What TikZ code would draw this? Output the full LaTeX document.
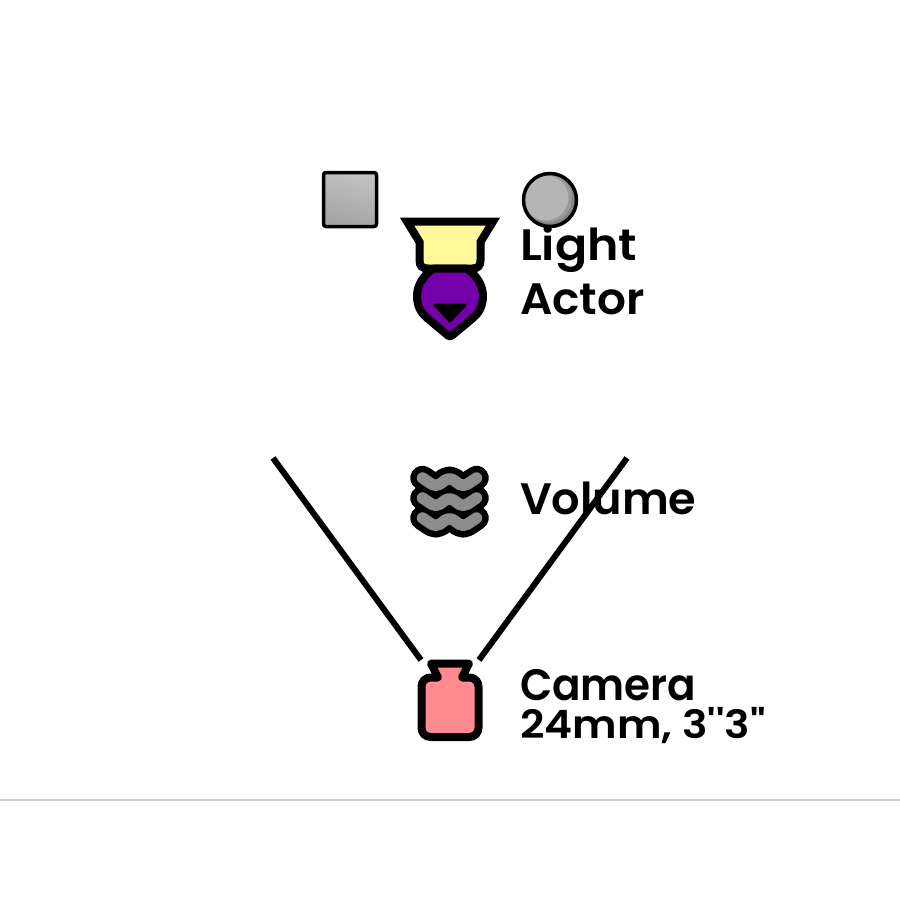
\documentclass[tikz,border=0pt]{standalone}
\usepackage{fontspec}
\usepackage{graphicx}
\newfontfamily\labfont{Poppins SemiBold}
\definecolor{lightfill}{HTML}{FFF799}
\definecolor{actorfill}{HTML}{7300A8}
\definecolor{camfill}{HTML}{FF8A8F}
\definecolor{volfill}{HTML}{8C8C8C}
\definecolor{rulecol}{HTML}{CCCCCC}
\tikzset{
  icon/.style={draw=black,line width=8pt,line join=round},
  lab/.style={anchor=base west,inner sep=0pt,outer sep=0pt,text=black,font=\fontsize{44}{44}\selectfont\labfont},
  labsmall/.style={lab,font=\fontsize{39}{39}\selectfont\labfont},
  frustum/.style={draw=black,line width=6pt},
  waveout/.style={draw=black,line width=24.5pt,line cap=round,line join=round,rounded corners=5pt},
  wavein/.style={draw=volfill,line width=11.5pt,line cap=round,line join=round,rounded corners=5pt},
  prop/.style={draw=black,line width=3.5pt}
}
\newcommand{\wavepath}[1]{(422.5,#1) -- (436,#1+9) -- (449.5,#1-1) -- (463,#1+9) -- (476.5,#1)}
\begin{document}
\begin{tikzpicture}[x=1pt,y=-1pt]
\useasboundingbox (0,0) rectangle (900,900);
\fill[white] (0,0) rectangle (900,900);
% rule
\coordinate (ruleL) at (0,800);
\coordinate (ruleR) at (900,800);
\draw[rulecol,line width=1.5pt] (ruleL) -- (ruleR);
% props
\shade[top color=black!24,bottom color=black!36,shading angle=-15] (323.5,172.5) rectangle (376.5,226.5);
\draw[prop,rounded corners=2.5pt] (323.5,172.5) rectangle (376.5,226.5);
\fill[black!48] (550,200) circle (26.5);
\begin{scope}
\clip (550,200) circle (26.5);
\fill[black!40] (548,198.5) circle (24);
\fill[black!29] (546,198) circle (22.5);
\end{scope}
\draw[prop] (550,200) circle (26.5);
% light
\draw[icon,fill=lightfill,miter limit=10,line join=miter] (407,221.5) -- (493,221.5) -- (480.5,242) -- (480.5,260) .. controls (480.5,266) and (478,268.5) .. (472,268.5) -- (428,268.5) .. controls (422,268.5) and (419.5,266) .. (419.5,260) -- (419.5,242) -- cycle;
% actor
\draw[icon,fill=actorfill] (434,268.5) -- (466,268.5) .. controls (476,274) and (483,285) .. (483,296) .. controls (483,306) and (479,313) .. (473,318) -- (452,335.5) .. controls (451,336.5) and (449,336.5) .. (448,335.5) -- (427,318) .. controls (421,313) and (417,306) .. (417,296) .. controls (417,285) and (424,274) .. (434,268.5) -- cycle;
\draw[fill=black,draw=black,line width=3pt,line join=round] (435,305) -- (465,305) -- (450,321) -- cycle;
% volume
\draw[waveout] \wavepath{478};
\draw[waveout] \wavepath{498};
\draw[waveout] \wavepath{518};
\draw[wavein] \wavepath{478};
\draw[wavein] \wavepath{498};
\draw[wavein] \wavepath{518};
% camera
\draw[icon,fill=camfill] (431,663.5) -- (469,663.5) -- (462,677.5) -- (466,677.5) [rounded corners=9pt] -- (478.5,677.5) -- (478.5,737) -- (421.5,737) -- (421.5,677.5) [rounded corners=0pt] -- (438,677.5) -- cycle;
% frustum
\coordinate (fovLa) at (273,458);
\coordinate (fovLb) at (421,660);
\coordinate (fovRa) at (627,458);
\coordinate (fovRb) at (479,660);
\draw[frustum] (fovLa) -- (fovLb);
\draw[frustum] (fovRa) -- (fovRb);
% labels
\node[lab] (light) at (520,260) {\scalebox{1.08}[1]{Light}};
\node[lab] (actor) at (520,314) {\scalebox{1.03}[1]{Actor}};
\node[lab] (volume) at (520,514) {\scalebox{1.015}[1]{Volume}};
\node[lab] (camera) at (520,700) {\scalebox{0.955}[1]{Camera}};
\node[labsmall] (lens) at (520,738) {\scalebox{1.09}[1]{24mm, 3\char39\char39 3\char34}};
\end{tikzpicture}
\end{document}
